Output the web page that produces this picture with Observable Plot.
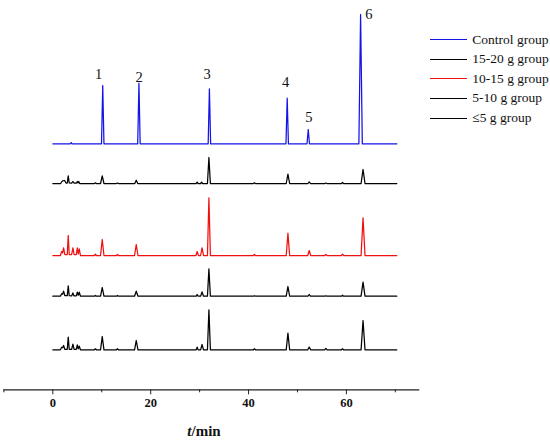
<!DOCTYPE html>
<html>
<head>
<meta charset="utf-8">
<script src="https://cdn.jsdelivr.net/npm/d3@7"></script>
<script src="https://cdn.jsdelivr.net/npm/@observablehq/plot@0.6"></script>
<style>
  html, body { margin: 0; padding: 0; background: #fff; }
  #wrap { position: relative; width: 550px; height: 442px; font-family: "Liberation Serif", "Times New Roman", serif; color: #111; }
  #legend { position: absolute; left: 430px; top: 29.9px; }
  .row { display: flex; align-items: center; height: 19.6px; font-size: 13.5px; white-space: nowrap; }
  .sw { width: 36.7px; height: 0; border-top: 1.5px solid; margin-right: 5.6px; }
  #xlabel { position: absolute; left: 204px; top: 430.7px; transform: translate(-50%, -50%); font-weight: bold; font-size: 15px; white-space: nowrap; }
</style>
</head>
<body>
<div id="wrap"></div>
<script>
// ---- data (t in min, signal in arbitrary units above each trace's baseline) ----
const groups = ["Control group", "15-20 g group", "10-15 g group", "5-10 g group", "≤5 g group"];
const colors = ["#1414e6", "#000000", "#f01010", "#000000", "#000000"];

const control = [[0,0],[3.55,0],[3.75,1.2],[3.95,0],[9.95,0],[10.2,58.3],[10.45,0],[17.35,0],[17.6,60.6],[17.85,0],[31.75,0],[32.0,55],[32.25,0],[47.65,0],[47.9,45.6],[48.15,0],[51.95,0],[52.2,14.3],[52.45,0],[62.55,0],[62.9,129.3],[63.25,0],[70.3,0]];

const g1520 = [[0,0],[1.6,0],[1.85,2],[2.05,2.7],[2.4,3],[2.7,0.5],[2.95,0.5],[3.15,7.6],[3.35,0.5],[3.85,0.3],[4.1,2],[4.35,0.3],[4.8,0.3],[5.0,2],[5.15,0.5],[5.3,2],[5.5,0],[8.5,0],[8.7,0.7],[8.9,0],[9.75,0],[10.1,7.7],[10.45,0],[13.0,0],[13.2,0.5],[13.4,0],[16.75,0],[17.05,3.3],[17.35,0],[29.3,0],[29.5,1.3],[29.7,0],[30.2,0],[30.4,1.3],[30.6,0],[31.6,0],[31.9,26],[32.2,0],[41.0,0],[41.2,0.7],[41.4,0],[47.7,0],[48.05,9.3],[48.4,0],[52.15,0],[52.4,1.7],[52.65,0],[55.6,0],[55.8,0.5],[56.0,0],[59.0,0],[59.2,1],[59.4,0],[63.0,0],[63.4,14],[63.8,0],[70.3,0]];

const g1015 = [[0,0],[1.55,0],[1.8,4],[2.0,2.5],[2.2,7.7],[2.45,1],[2.95,1],[3.15,20],[3.35,1],[3.85,1],[4.1,7.7],[4.35,1],[4.8,1],[5.0,7.7],[5.2,1.5],[5.4,6.7],[5.65,0],[8.5,0],[8.7,1.3],[8.9,0],[9.75,0],[10.1,16],[10.45,0],[13.0,0],[13.2,1],[13.4,0],[16.7,0],[17.05,11],[17.4,0],[29.25,0],[29.5,4],[29.75,0],[30.2,0],[30.5,7.7],[30.8,0],[31.6,0],[31.9,57.7],[32.2,0],[41.0,0],[41.2,1],[41.4,0],[47.7,0],[48.05,22.3],[48.4,0],[52.1,0],[52.4,5],[52.7,0],[55.55,0],[55.8,1],[56.05,0],[58.95,0],[59.2,1.3],[59.45,0],[63.0,0],[63.4,37.7],[63.8,0],[70.3,0]];

const g510 = [[0,0],[1.55,0],[1.8,2.5],[2.0,2],[2.2,5],[2.45,0.5],[2.95,0.5],[3.15,10.3],[3.35,0.5],[3.85,0.3],[4.1,3.3],[4.35,0.3],[4.8,0.3],[5.0,4],[5.2,1],[5.4,4],[5.65,0],[8.5,0],[8.7,0.7],[8.9,0],[9.75,0],[10.1,8.7],[10.45,0],[13.0,0],[13.2,0.7],[13.4,0],[16.7,0],[17.05,5],[17.4,0],[29.3,0],[29.5,1.7],[29.7,0],[30.2,0],[30.5,4.3],[30.8,0],[31.6,0],[31.9,27.3],[32.2,0],[41.0,0],[41.2,0.5],[41.4,0],[47.7,0],[48.05,9.7],[48.4,0],[52.15,0],[52.4,1.7],[52.65,0],[55.6,0],[55.8,0.5],[56.0,0],[59.0,0],[59.2,1],[59.4,0],[63.0,0],[63.4,14],[63.8,0],[70.3,0]];

const gle5 = [[0,0],[1.55,0],[1.8,2.5],[2.0,2],[2.2,4.3],[2.45,0.5],[2.95,0.5],[3.15,12.7],[3.35,0.5],[3.85,0.5],[4.1,5.7],[4.35,0.5],[4.8,0.5],[5.0,5],[5.2,1],[5.4,3.7],[5.65,0],[8.5,0],[8.7,1],[8.9,0],[9.75,0],[10.1,13.3],[10.45,0],[13.0,0],[13.2,1],[13.4,0],[16.7,0],[17.05,9.3],[17.4,0],[29.3,0],[29.5,2.7],[29.7,0],[30.2,0],[30.5,5.3],[30.8,0],[31.6,0],[31.9,40],[32.2,0],[41.0,0],[41.2,1],[41.4,0],[47.7,0],[48.05,16.7],[48.4,0],[52.1,0],[52.4,2.7],[52.7,0],[55.55,0],[55.8,1.5],[56.05,0],[59.0,0],[59.2,1],[59.4,0],[63.0,0],[63.4,29.3],[63.8,0],[70.3,0]];

const peakLabels = ["1", "2", "3", "4", "5", "6"];
const peakLabelTimes = [10.2, 17.6, 32.0, 47.9, 52.2, 62.9];
const majorTicks = [0, 20, 40, 60];
const minorTicks = [-10, 10, 30, 50, 70];

// ---- layout (vertical stacking offsets of the traces, label nudges in px) ----
const series = [control, g1520, g1015, g510, gle5];
const offsets = [246, 206.3, 134.3, 93.6, 40];
const labelNudge = [[-4, -11], [0.3, -6], [-2.3, -14.3], [-1.7, -16], [0.6, -11.7], [8.3, 0]];

const rows = series.flatMap((s, i) => s.map(([t, v]) => ({group: groups[i], i, t, y: v + offsets[i]})));
const apex = peakLabelTimes.map((t, k) => {
  const p = control.find(d => d[0] === t);
  return {label: peakLabels[k], t, y: p[1] + offsets[0], k};
});

const marks = [
  Plot.ruleY([0], {stroke: "#222", strokeWidth: 1.2}),
  Plot.axisX({ticks: majorTicks, tickSize: 5, tickFormat: () => "", label: null, stroke: "#222"}),
  Plot.axisX({ticks: minorTicks, tickSize: 3, tickFormat: () => "", label: null, stroke: "#222"}),
  Plot.text(majorTicks, {x: d => d, frameAnchor: "bottom", dy: 17, text: d => String(d), fontSize: 12.5, fontWeight: "bold", fill: "#111"}),
  ...series.map((s, i) => Plot.line(rows.filter(d => d.i === i), {x: "t", y: "y", stroke: colors[i], strokeWidth: 1.25})),
  ...apex.map(a => Plot.text([a], {x: "t", y: "y", text: "label", dx: labelNudge[a.k][0], dy: labelNudge[a.k][1], fontSize: 14.5, fill: "#111"}))
];

const chart = Plot.plot({
  width: 550,
  height: 442,
  marginLeft: 3.4,
  marginRight: 130.7,
  marginTop: 0,
  marginBottom: 52.7,
  x: {domain: [-10, 75]},
  y: {domain: [0, 389.3], axis: null},
  style: {fontFamily: "'Liberation Serif', 'Times New Roman', serif", color: "#111", background: "#fff"},
  marks
});

const wrap = document.getElementById("wrap");
wrap.appendChild(chart);

const legend = document.createElement("div");
legend.id = "legend";
groups.forEach((g, i) => {
  const r = document.createElement("div");
  r.className = "row";
  const sw = document.createElement("span");
  sw.className = "sw";
  sw.style.borderTopColor = colors[i];
  const tx = document.createElement("span");
  tx.textContent = g;
  r.appendChild(sw);
  r.appendChild(tx);
  legend.appendChild(r);
});
wrap.appendChild(legend);

const xl = document.createElement("div");
xl.id = "xlabel";
xl.innerHTML = "<i>t</i>/min";
wrap.appendChild(xl);
</script>
</body>
</html>
